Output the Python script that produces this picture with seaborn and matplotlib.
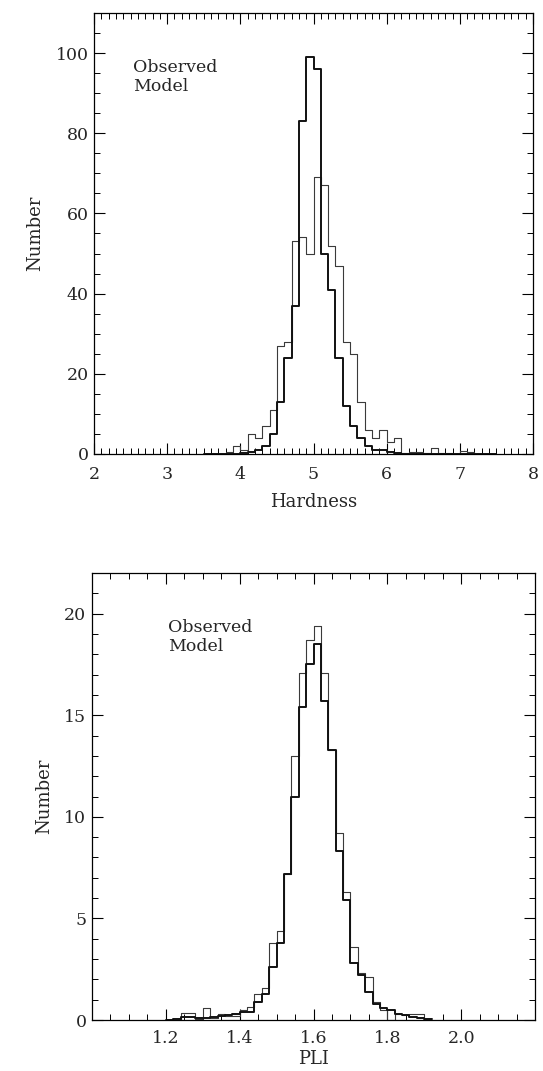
import numpy as np
import pandas as pd
import matplotlib
matplotlib.use("Agg")
import matplotlib.pyplot as plt
from matplotlib.ticker import MultipleLocator
import seaborn as sns

# ---- Hardness distribution (bin width 0.1, from 3.5 to 7.5) ----
hardness_range = (3.5, 7.5)
hardness_observed = [0, 0, 0, 0.5, 2, 1, 5, 4, 7, 11,
                     27, 28, 53, 54, 50, 69, 67, 52, 47, 28,
                     25, 13, 6, 4, 6, 3, 4, 0.3, 0.5, 0.5,
                     0.2, 1.5, 0.3, 0.3, 0, 0.8, 0.5, 0, 0, 0]
hardness_model = [0, 0, 0, 0, 0, 0.2, 0.4, 1, 2, 5,
                  13, 24, 37, 83, 99, 96, 50, 41, 24, 12,
                  7, 4, 2, 1, 1, 0.5, 0.3, 0, 0, 0,
                  0, 0, 0, 0, 0, 0, 0, 0, 0, 0]

# ---- PLI distribution (bin width 0.02, from 1.20 to 1.92) ----
pli_range = (1.20, 1.92)
pli_observed = [0, 0, 0.35, 0.35, 0.05, 0.6, 0.1, 0.3, 0.2, 0.2,
                0.5, 0.65, 1.3, 1.6, 3.8, 4.4, 7.2, 13.0, 17.1, 18.7,
                19.4, 17.1, 13.3, 9.2, 6.3, 3.6, 2.3, 2.1, 0.9, 0.5,
                0.0, 0.3, 0.25, 0.3, 0.3, 0]
pli_model = [0, 0.05, 0.15, 0.15, 0.1, 0.1, 0.15, 0.2, 0.25, 0.3,
             0.4, 0.4, 0.9, 1.3, 2.6, 3.8, 7.2, 11.0, 15.4, 17.5,
             18.5, 15.7, 13.3, 8.3, 5.9, 2.8, 2.2, 1.4, 0.8, 0.6,
             0.5, 0.3, 0.25, 0.15, 0.1, 0.05]

legend_lines = ["Observed", "Model"]


def bin_frame(value_range, observed, model):
    n = len(observed)
    edges = np.linspace(value_range[0], value_range[1], n + 1)
    centers = 0.5 * (edges[:-1] + edges[1:])
    return pd.DataFrame({"center": centers, "Observed": observed, "Model": model})


sns.set_theme(style="ticks")
plt.rcParams["font.family"] = ["DejaVu Serif"]
plt.rcParams["font.size"] = 12
plt.rcParams["axes.linewidth"] = 0.9
plt.rcParams["xtick.direction"] = "in"
plt.rcParams["ytick.direction"] = "in"

fig = plt.figure(figsize=(5.43, 10.71), dpi=100)
ax_top = fig.add_axes([0.1731, 0.5761, 0.8085, 0.4118])
ax_bot = fig.add_axes([0.1694, 0.0476, 0.8159, 0.4174])


def draw_panel(ax, df, value_range):
    nbins = len(df)
    sns.histplot(data=df, x="center", weights="Observed", bins=nbins,
                 binrange=value_range, element="step", fill=False,
                 color="#3a3a3a", linewidth=0.8, ax=ax)
    sns.histplot(data=df, x="center", weights="Model", bins=nbins,
                 binrange=value_range, element="step", fill=False,
                 color="#111111", linewidth=1.4, ax=ax)


def style_axes(ax, xmajor, xminor, ymajor, yminor, xpad):
    ax.xaxis.set_major_locator(MultipleLocator(xmajor))
    ax.xaxis.set_minor_locator(MultipleLocator(xminor))
    ax.yaxis.set_major_locator(MultipleLocator(ymajor))
    ax.yaxis.set_minor_locator(MultipleLocator(yminor))
    ax.tick_params(which="both", direction="in", top=True, right=True,
                   color="black", labelsize=12.5)
    ax.tick_params(which="major", length=8, width=0.8)
    ax.tick_params(which="minor", length=4, width=0.7)
    ax.tick_params(axis="x", which="major", pad=xpad)
    ax.tick_params(axis="y", which="major", pad=4)
    for s in ax.spines.values():
        s.set_color("black")
        s.set_linewidth(0.9)
    ax.set_ylabel("Number", fontsize=13, labelpad=8)


# Top panel: hardness
df_h = bin_frame(hardness_range, hardness_observed, hardness_model)
draw_panel(ax_top, df_h, hardness_range)
ax_top.set_xlim(2, 8)
ax_top.set_ylim(0, 110)
style_axes(ax_top, 1, 0.1, 20, 5, xpad=9)
ax_top.set_xlabel("Hardness", fontsize=13, labelpad=7)
ax_top.text(2.53, 96.4, legend_lines[0], fontsize=12.5, va="center")
ax_top.text(2.53, 91.6, legend_lines[1], fontsize=12.5, va="center")

# Bottom panel: PLI
df_p = bin_frame(pli_range, pli_observed, pli_model)
draw_panel(ax_bot, df_p, pli_range)
ax_bot.set_xlim(1.0, 2.2)
ax_bot.set_ylim(0, 22)
style_axes(ax_bot, 0.2, 0.05, 5, 1, xpad=7)
ax_bot.set_xticks([1.2, 1.4, 1.6, 1.8, 2.0])
ax_bot.set_xticklabels(["1.2", "1.4", "1.6", "1.8", "2.0"])
ax_bot.set_xlabel("PLI", fontsize=13, labelpad=2)
ax_bot.text(1.205, 19.3, legend_lines[0], fontsize=12.5, va="center")
ax_bot.text(1.205, 18.4, legend_lines[1], fontsize=12.5, va="center")

fig.savefig("out.png", dpi=100, facecolor="white")
